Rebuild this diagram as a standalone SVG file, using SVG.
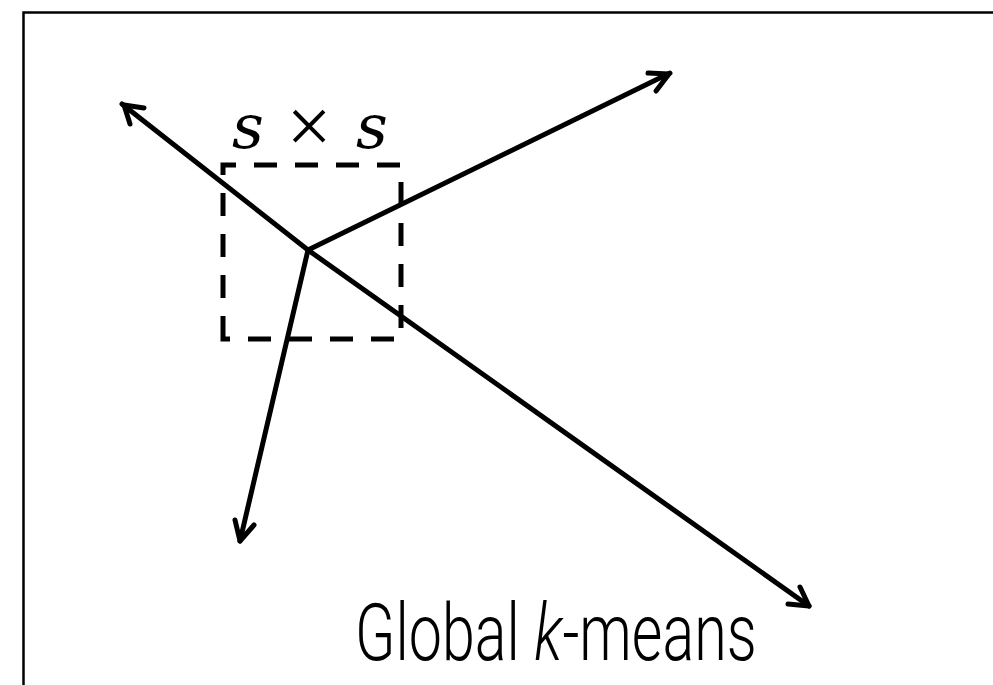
<svg xmlns="http://www.w3.org/2000/svg" width="993" height="685" viewBox="0 0 993 685">
<style>
.ln{stroke:#000;stroke-width:5;fill:none;stroke-linecap:round;stroke-linejoin:round}
.box{stroke:#000;stroke-width:5;fill:none;stroke-dasharray:23 18}
.math{font-family:"DejaVu Serif","Liberation Serif",serif;font-style:italic;font-size:62px;fill:#000}
.op{font-family:"Liberation Serif",serif;font-size:80px;fill:#000}
.lbl{font-family:Roboto,"Liberation Sans",sans-serif;font-size:80px;font-weight:300;fill:#000}
</style>
<rect width="993" height="685" fill="#fff"/>
<g id="frame"><path d="M23.5 685 V12.5 H993" stroke="#000" stroke-width="2.5" fill="none"/></g>
<g id="window">
<path class="box" d="M223 339 V165 H401 V339 Z"/>
<text class="math" x="248" y="148" text-anchor="middle">s</text>
<text class="op" x="309" y="153" text-anchor="middle">×</text>
<text class="math" x="372" y="148" text-anchor="middle">s</text>
</g>
<g id="connectors">
<path class="ln" d="M308 250 L122 104"/>
<path class="ln" d="M124 105 L144 108 M124 105 L130 124"/>
<path class="ln" d="M308 250 L670 73"/>
<path class="ln" d="M669 74 L648 73 M669 74 L656 91"/>
<path class="ln" d="M308 250 L240 541"/>
<path class="ln" d="M240 541 L235 520 M240 541 L254 525"/>
<path class="ln" d="M308 250 L809 606"/>
<path class="ln" d="M809 606 L788 604 M809 606 L800 587"/>
</g>
<g id="caption">
<text class="lbl" transform="translate(355 660) scale(0.74 1)">Global <tspan font-style="italic">k</tspan>-means</text>
</g>
</svg>
